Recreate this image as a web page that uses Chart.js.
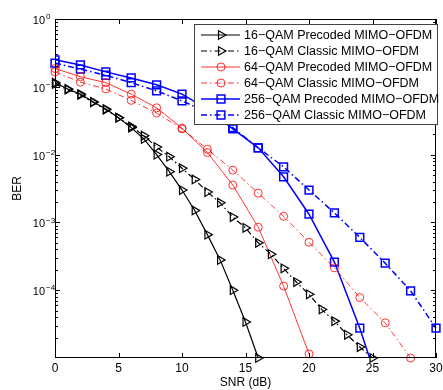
<!DOCTYPE html>
<html>
<head>
<meta charset="utf-8">
<script src="https://cdn.jsdelivr.net/npm/chart.js@4.4.1/dist/chart.umd.min.js"></script>
<style>
  html, body { margin: 0; padding: 0; background: #fff; }
  #wrap { width: 443px; height: 390px; }
</style>
</head>
<body>
<div id="wrap"><canvas id="chart"></canvas></div>
<script>
// SNR (dB) axes for each curve
var snr16 = [0,1,2,3,4,5,6,7,8,9,10,11,12,13,14,15,16];
var snr16c = [0,1,2,3,4,5,6,7,8,9,10,11,12,13,14,15,16,17,18,19,20,21,22,23,24,25];
var snr64 = [0,2,4,6,8,10,12,14,16,18,20];
var snr64c = [0,2,4,6,8,10,12,14,16,18,20,22,24,26,28];
var snr256 = [0,2,4,6,8,10,12,14,16,18,20,22,24,26];
var snr256c = [0,2,4,6,8,10,12,14,16,18,20,22,24,26,28,30];

// BER values
var ber16pre = [0.115,0.093,0.078,0.060,0.047,0.035,0.025,0.017,0.010,0.0056,0.0030,0.0015,0.00066,0.00028,0.00010,0.000034,0.00001];
var ber16cls = [0.110,0.091,0.076,0.059,0.046,0.035,0.026,0.019,0.0129,0.0093,0.0063,0.0043,0.0028,0.00195,0.0012,0.00083,0.0005,0.00034,0.00021,0.000132,0.000087,0.000052,0.000035,0.000022,0.0000145,0.00001];
var ber64pre = [0.186,0.141,0.115,0.078,0.049,0.0245,0.0107,0.00355,0.00085,0.000115,0.0000115];
var ber64cls = [0.166,0.117,0.093,0.063,0.041,0.024,0.012,0.0059,0.0027,0.00123,0.00051,0.000214,0.000078,0.000033,0.00001];
var ber256pre = [0.25,0.21,0.166,0.135,0.107,0.078,0.047,0.024,0.0126,0.0047,0.00132,0.00026,0.0000275,0.000002];
var ber256cls = [0.224,0.182,0.148,0.115,0.087,0.062,0.042,0.025,0.0126,0.0066,0.0030,0.00138,0.0006,0.00025,0.000098,0.0000275];

var xTicks = [0,5,10,15,20,25,30];
var yDecades = [0,-1,-2,-3,-4];

var FONT = '"Liberation Sans", Arial, sans-serif';
var dashDot = [6,3,1.5,3];

function pts(xs, ys) {
  return xs.map(function (x, i) { return { x: x, y: ys[i] }; });
}

function makeSet(label, xs, ys, color, width, style, dash, radius, clip) {
  return {
    label: label,
    data: pts(xs, ys),
    borderColor: color,
    backgroundColor: 'rgba(0,0,0,0)',
    borderWidth: width,
    borderDash: dash,
    pointStyle: style,
    pointRotation: style === 'triangle' ? 90 : 0,
    pointRadius: radius,
    pointBorderColor: color,
    pointBackgroundColor: 'rgba(0,0,0,0)',
    pointBorderWidth: width,
    tension: 0,
    clip: clip
  };
}

var datasets = [
  makeSet('16\u2212QAM Precoded MIMO\u2212OFDM', snr16, ber16pre, '#000000', 1.2, 'triangle', [], 5, 8),
  makeSet('16\u2212QAM Classic MIMO\u2212OFDM', snr16c, ber16cls, '#000000', 1.2, 'triangle', dashDot, 5, 8),
  makeSet('64\u2212QAM Precoded MIMO\u2212OFDM', snr64, ber64pre, '#ff0000', 0.8, 'circle', [], 4, 8),
  makeSet('64\u2212QAM Classic MIMO\u2212OFDM', snr64c, ber64cls, '#ff0000', 0.8, 'circle', dashDot, 4, 8),
  makeSet('256\u2212QAM Precoded MIMO\u2212OFDM', snr256, ber256pre, '#0000ff', 1.5, 'rect', [], 5.5, 0),
  makeSet('256\u2212QAM Classic MIMO\u2212OFDM', snr256c, ber256cls, '#0000ff', 1.5, 'rect', dashDot, 5.5, 8)
];

// axes box, inward ticks, labels and the legend box drawn on top
var decorPlugin = {
  id: 'decor',
  afterDraw: function (chart) {
    var ctx = chart.ctx;
    var a = chart.chartArea;
    var xs = chart.scales.x, ys = chart.scales.y;
    ctx.save();
    ctx.strokeStyle = '#000';
    ctx.lineWidth = 1;
    ctx.setLineDash([]);
    ctx.strokeRect(a.left + 0.5, a.top + 0.5, a.right - a.left - 1, a.bottom - a.top - 1);

    ctx.beginPath();
    xTicks.forEach(function (t) {
      var px = Math.round(xs.getPixelForValue(t)) + 0.5;
      ctx.moveTo(px, a.bottom); ctx.lineTo(px, a.bottom - 5);
      ctx.moveTo(px, a.top); ctx.lineTo(px, a.top + 5);
    });
    for (var d = -5; d < 0; d++) {
      for (var m = 2; m <= 9; m++) {
        var py = Math.round(ys.getPixelForValue(m * Math.pow(10, d))) + 0.5;
        ctx.moveTo(a.left, py); ctx.lineTo(a.left + 3, py);
        ctx.moveTo(a.right, py); ctx.lineTo(a.right - 3, py);
      }
    }
    yDecades.forEach(function (e) {
      var py = Math.round(ys.getPixelForValue(Math.pow(10, e))) + 0.5;
      ctx.moveTo(a.left, py); ctx.lineTo(a.left + 5, py);
      ctx.moveTo(a.right, py); ctx.lineTo(a.right - 5, py);
    });
    ctx.stroke();

    // tick labels
    ctx.fillStyle = '#000';
    ctx.font = '12px ' + FONT;
    ctx.textAlign = 'center';
    ctx.textBaseline = 'middle';
    xTicks.forEach(function (t) {
      ctx.fillText(String(t), xs.getPixelForValue(t), a.bottom + 11);
    });
    yDecades.forEach(function (e) {
      var py = ys.getPixelForValue(Math.pow(10, e));
      ctx.font = '11px ' + FONT;
      ctx.textAlign = 'right';
      ctx.fillText('10', a.left - 10, py + 2);
      ctx.font = '8px ' + FONT;
      ctx.textAlign = 'left';
      ctx.fillText(e === 0 ? '0' : '\u2212' + (-e), a.left - 9, py - 2);
    });

    // axis titles
    ctx.font = '12px ' + FONT;
    ctx.textAlign = 'center';
    ctx.fillText('SNR (dB)', (a.left + a.right) / 2, a.bottom + 25);
    ctx.save();
    ctx.translate(18, (a.top + a.bottom) / 2);
    ctx.rotate(-Math.PI / 2);
    ctx.fillText('BER', 0, 0);
    ctx.restore();

    // legend
    var bx = 194, by = 24, bw = 243, bh = 100;
    ctx.fillStyle = '#fff';
    ctx.fillRect(bx, by, bw, bh);
    ctx.strokeStyle = '#444';
    ctx.lineWidth = 1;
    ctx.strokeRect(bx + 0.5, by + 0.5, bw, bh);
    chart.data.datasets.forEach(function (ds, i) {
      var ry = 35 + i * 16;
      ctx.strokeStyle = ds.borderColor;
      ctx.lineWidth = ds.borderWidth;
      ctx.setLineDash(ds.borderDash);
      ctx.beginPath();
      ctx.moveTo(201, ry); ctx.lineTo(240, ry);
      ctx.stroke();
      ctx.setLineDash([]);
      ctx.fillStyle = 'rgba(0,0,0,0)';
      Chart.helpers.drawPoint(ctx, {
        pointStyle: ds.pointStyle,
        rotation: ds.pointRotation,
        radius: ds.pointRadius,
        borderWidth: ds.borderWidth
      }, 221, ry);
      ctx.fillStyle = '#000';
      ctx.font = '12.5px ' + FONT;
      ctx.textAlign = 'left';
      ctx.fillText(ds.label, 244, ry + 1);
    });
    ctx.restore();
  }
};

new Chart(document.getElementById('chart'), {
  type: 'line',
  data: { datasets: datasets },
  options: {
    responsive: true,
    maintainAspectRatio: false,
    animation: false,
    layout: { padding: { left: 0, right: 4, top: 19, bottom: 0 } },
    plugins: { legend: { display: false }, tooltip: { enabled: false } },
    scales: {
      x: {
        type: 'linear', min: 0, max: 30,
        grid: { display: false }, border: { display: false },
        ticks: { display: false },
        afterFit: function (s) { s.height = 32; }
      },
      y: {
        type: 'logarithmic', min: 0.00001, max: 1,
        grid: { display: false }, border: { display: false },
        ticks: { display: false },
        afterFit: function (s) { s.width = 55; }
      }
    }
  },
  plugins: [decorPlugin]
});
</script>
</body>
</html>
